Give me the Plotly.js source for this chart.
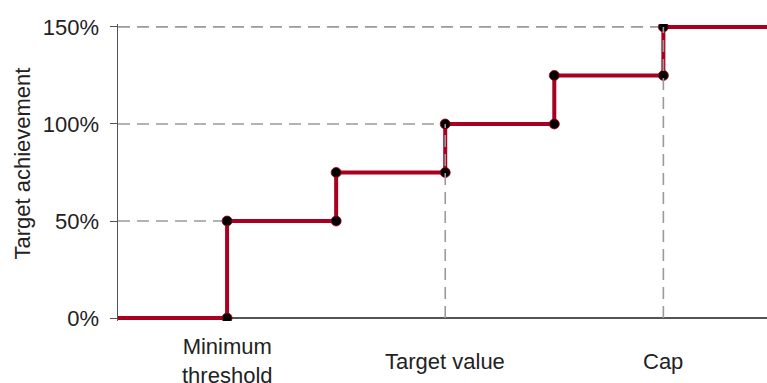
<!DOCTYPE html>
<html>
<head>
<meta charset="utf-8">
<script src="https://cdn.plot.ly/plotly-3.0.1.min.js"></script>
<style>
  html, body { margin: 0; padding: 0; background: #fff; }
  #chart { width: 767px; height: 383px; }
</style>
</head>
<body>
<div id="chart"></div>
<script>
// Payout curve: achievement steps up at each performance level
const stepX = [0, 1, 2, 3, 4, 5, 6];
const stepY = [0, 50, 75, 100, 125, 150, 150];

// Named performance levels on the horizontal axis
const levelX = [1, 3, 5];
const levelLabels = ['Minimum<br>threshold', 'Target value', 'Cap'];

// Guide lines: horizontal from the axis to the level, vertical from zero up to the level
const hGuideX = [1, 3, 5];
const hGuideY = [50, 100, 150];
const vGuideX = [3, 5];
const vGuideY = [100, 150];

// Y axis ticks
const yTicks = [0, 50, 100, 150];
const yTickText = ['0%', '50%', '100%', '150%'];
const yTitle = 'Target achievement';

const RED = '#a8001e';
const GUIDE = '#9a9a9a';
const FONT = 'Liberation Sans, Arial, sans-serif';

// corner points of the step curve (before and after each jump)
const cornerX = [], cornerY = [];
for (let i = 1; i < stepX.length - 1; i++) {
  cornerX.push(stepX[i], stepX[i]);
  cornerY.push(stepY[i - 1], stepY[i]);
}

const traces = [];

// horizontal guides
hGuideX.forEach((x, i) => {
  traces.push({
    x: [0, x], y: [hGuideY[i], hGuideY[i]],
    mode: 'lines', hoverinfo: 'skip', showlegend: false,
    line: { color: GUIDE, width: 1.6, dash: '12px,7px' }
  });
});

// step curve
traces.push({
  x: stepX, y: stepY,
  mode: 'lines', line: { color: RED, width: 4, shape: 'hv' },
  hoverinfo: 'skip', showlegend: false
});

// corner markers
traces.push({
  x: cornerX, y: cornerY,
  mode: 'markers', marker: { color: '#000', size: 10, line: { color: RED, width: 0.8 } },
  hoverinfo: 'skip', showlegend: false
});

// vertical guides drawn over the curve
vGuideX.forEach((x, i) => {
  traces.push({
    x: [x, x], y: [0, vGuideY[i]],
    mode: 'lines', hoverinfo: 'skip', showlegend: false,
    line: { color: GUIDE, width: 1.6, dash: '12px,7px' }
  });
});

const annotations = levelX.map((x, i) => ({
  x: x, xref: 'x', y: 0, yref: 'paper',
  yanchor: 'middle', xanchor: 'center', yshift: -40,
  text: levelLabels[i], showarrow: false,
  font: { family: FONT, size: 22, color: '#222' }
}));

// vertical axis title, placed left of the tick labels
annotations.push({
  x: 0, xref: 'paper', xshift: -95, y: 0.53, yref: 'paper',
  xanchor: 'center', yanchor: 'middle', textangle: -90,
  text: yTitle, showarrow: false,
  font: { family: FONT, size: 22, color: '#222' }
});

const layout = {
  width: 767, height: 383,
  margin: { l: 118, r: 0, t: 24, b: 62, pad: 0 },
  paper_bgcolor: '#fff', plot_bgcolor: '#fff',
  font: { family: FONT, size: 22, color: '#222' },
  xaxis: {
    range: [0, 5.95], showgrid: false, zeroline: false,
    showticklabels: false, ticks: '', showline: false
  },
  yaxis: {
    range: [-1.5, 151.5], tickvals: yTicks, ticktext: yTickText,
    showgrid: false, zeroline: true, zerolinecolor: '#555', zerolinewidth: 1.2,
    showline: true, linecolor: '#555', linewidth: 1.5,
    ticks: 'outside', ticklen: 7, tickcolor: '#555', tickwidth: 1,
    ticklabelstandoff: 6,
    tickfont: { family: FONT, size: 22, color: '#222' }
  },
  annotations: annotations
};

Plotly.newPlot('chart', traces, layout, { displayModeBar: false, staticPlot: true });
</script>
</body>
</html>
